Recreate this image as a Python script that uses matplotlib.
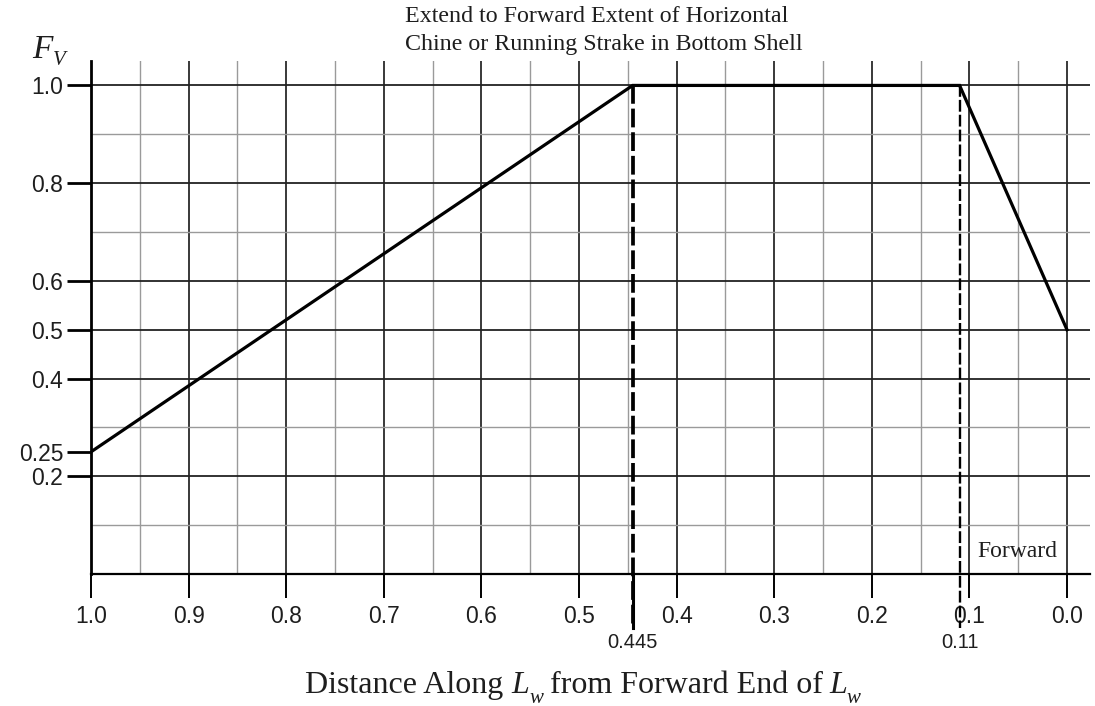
import matplotlib
matplotlib.use("Agg")
import matplotlib.pyplot as plt
from matplotlib.transforms import IdentityTransform

# ---- data ----
distance = [1.0, 0.445, 0.11, 0.0]
fv = [0.25, 1.0, 1.0, 0.5]

x_major = [1.0, 0.9, 0.8, 0.7, 0.6, 0.5, 0.4, 0.3, 0.2, 0.1, 0.0]
x_major_labels = ["1.0", "0.9", "0.8", "0.7", "0.6", "0.5", "0.4", "0.3", "0.2", "0.1", "0.0"]
x_minor = [0.95, 0.85, 0.75, 0.65, 0.55, 0.45, 0.35, 0.25, 0.15, 0.05]
y_dark = [1.0, 0.8, 0.6, 0.5, 0.4, 0.2]
y_light = [0.9, 0.7, 0.3, 0.1]
y_ticks = [1.0, 0.8, 0.6, 0.5, 0.4, 0.25, 0.2]
y_ticklabels = ["1.0", "0.8", "0.6", "0.5", "0.4", "0.25", "0.2"]
breakpoints = [0.445, 0.11]
break_labels = ["0.445", "0.11"]

plt.rcParams['font.family'] = ['Liberation Sans', 'DejaVu Sans']
SERIF = 'Liberation Serif'
INK = '#1e1e1e'

W, H = 1095, 706
fig = plt.figure(figsize=(W / 100, H / 100), dpi=100)
ax = fig.add_axes([91 / W, 132 / H, 999 / W, 513 / H])
ax.set_xlim(1.0, -0.0236)
ax.set_ylim(0, 1.05)

for x in x_minor:
    ax.axvline(x, color='#9a9a9a', lw=1.0, zorder=1)
for x in x_major[1:]:
    ax.axvline(x, color='#2a2a2a', lw=1.3, zorder=1)
for y in y_light:
    ax.axhline(y, color='#9a9a9a', lw=1.0, zorder=1)
for y in y_dark:
    ax.axhline(y, color='#222222', lw=1.3, zorder=1)

for s in ['top', 'right']:
    ax.spines[s].set_visible(False)
ax.spines['left'].set_linewidth(2.0)
ax.spines['bottom'].set_linewidth(1.6)
ax.spines['left'].set_zorder(3)
ax.spines['bottom'].set_zorder(3)

ax.set_xticks(x_major)
ax.set_xticklabels(x_major_labels)
ax.set_yticks(y_ticks)
ax.set_yticklabels(y_ticklabels)
ax.tick_params(axis='x', direction='out', length=17, width=1.4, pad=5,
               labelsize=16.5, colors='black')
ax.tick_params(axis='y', direction='out', length=17, width=2.0, pad=3,
               labelsize=16.5, colors='black')
for lbl in ax.get_xticklabels() + ax.get_yticklabels():
    lbl.set_color(INK)

# curve
ax.plot(distance, fv, color='black', lw=2.3, zorder=5, solid_joinstyle='miter')

# dashed verticals at breakpoints
lws = [2.7, 1.7]
for bp, lab, lw in zip(breakpoints, break_labels, lws):
    ax.plot([bp, bp], [1.0, -0.11], color='black', lw=lw,
            ls=(0, (5, 1.3)), zorder=4, clip_on=False)
    ax.text(bp, -0.141, lab, ha='center', va='center', fontsize=14.5,
            color=INK, clip_on=False)
ax.plot([breakpoints[0], breakpoints[0]], [0, -0.11], color='black', lw=2.2,
        zorder=4, clip_on=False)

ax.text(0.0922, 0.0348, 'Forward', ha='left', va='baseline', fontsize=17,
        family=SERIF, color=INK, zorder=6)

# ---- texts built from pieces (pixel coordinates, origin top-left) ----
fig.canvas.draw()
renderer = fig.canvas.get_renderer()
PX = 100 / 72.0


def pieces_text(pieces, x_px, base_px, ha='left'):
    """pieces: (string, fontsize, style, dy_px_down, gap_after_em)"""
    made = []
    total = 0.0
    for s, size, style, dy, gap in pieces:
        t = fig.text(0, 0, s, fontsize=size, style=style, family=SERIF,
                     va='baseline', ha='left', color=INK,
                     transform=IdentityTransform())
        w = t.get_window_extent(renderer).width
        made.append((t, total, dy))
        total += w + gap * size * PX
    x0 = x_px - (total / 2 if ha == 'center' else 0)
    for t, off, dy in made:
        t.set_position((x0 + off, H - base_px - dy))


pieces_text([('F', 24, 'italic', 0, 0.02), ('V', 15, 'italic', 7, 0)], 32, 58)
pieces_text([('Extend to Forward Extent of Horizontal', 17.3, 'normal', 0, 0)], 405, 22)
pieces_text([('Chine or Running Strake in Bottom Shell', 17.3, 'normal', 0, 0)], 405, 50)
pieces_text([('Distance Along', 23, 'normal', 0, 0.25),
             ('L', 23, 'italic', 0, 0.0),
             ('w', 15, 'italic', 10, 0.3),
             ('from Forward End of', 23, 'normal', 0, 0.2),
             ('L', 23, 'italic', 0, 0.0),
             ('w', 15, 'italic', 10, 0)], 583, 693, ha='center')

fig.savefig('out.png', dpi=100)
